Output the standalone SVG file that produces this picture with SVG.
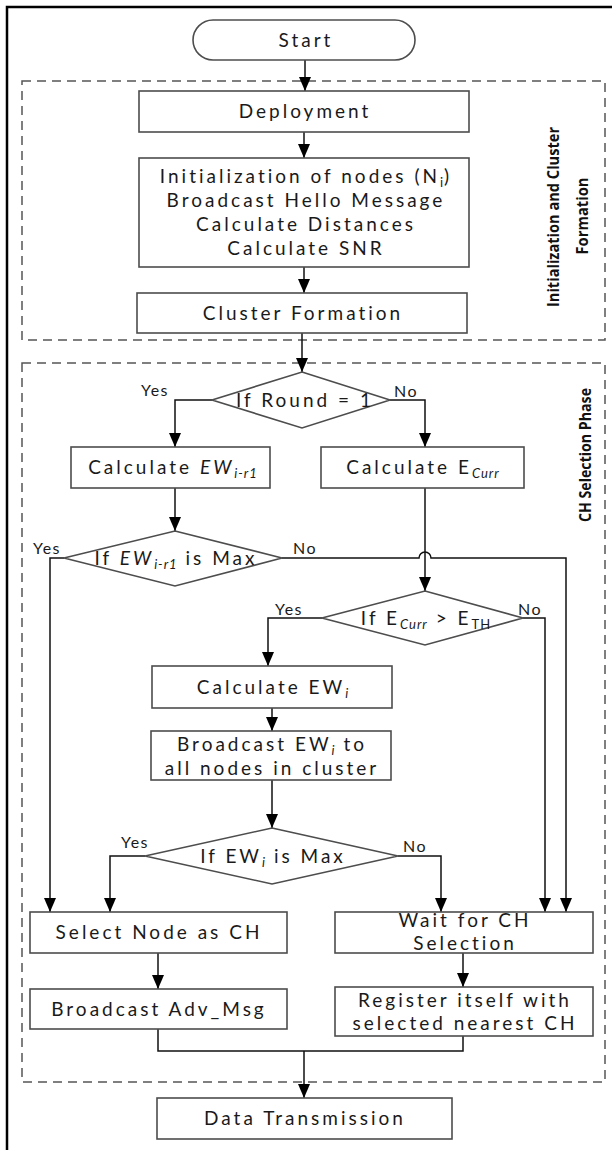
<svg xmlns="http://www.w3.org/2000/svg" width="612" height="1150" viewBox="0 0 612 1150">
<defs>
<marker id="ah" markerUnits="userSpaceOnUse" markerWidth="14" markerHeight="12" viewBox="0 0 14 12" refX="14" refY="6" orient="auto">
<path d="M0,0 L14,6 L0,12 Z" fill="#000"/>
</marker>
<style>
.box{fill:#fff;stroke:#4d4d4d;stroke-width:1.6}
.dash{fill:none;stroke:#555;stroke-width:1.5;stroke-dasharray:9 6}
.t{font-family:Lato,"Open Sans",sans-serif;font-size:19px;letter-spacing:3px;fill:#1a1a1a;text-anchor:middle}
.lbl{font-family:Lato,"Open Sans",sans-serif;font-size:16px;letter-spacing:1.5px;fill:#1a1a1a;text-anchor:middle}
.side{font-family:"Open Sans","Noto Sans",sans-serif;font-size:16px;font-weight:bold;fill:#111;text-anchor:middle}
.c{fill:none;stroke:#111;stroke-width:1.5}
.ca{fill:none;stroke:#111;stroke-width:1.5;marker-end:url(#ah)}
.sub{font-size:13px;letter-spacing:1px}
</style>
</defs>
<rect width="612" height="1150" fill="#fff"/>
<path d="M7,1150 V7 H612" fill="none" stroke="#000" stroke-width="2.5"/>

<g id="phase1">
<rect class="dash" x="22" y="81" width="583" height="259"/>
<text class="side" transform="rotate(-90)"><tspan x="-217" y="559" textLength="180" lengthAdjust="spacingAndGlyphs">Initialization and Cluster</tspan><tspan x="-216" y="588" textLength="77" lengthAdjust="spacingAndGlyphs">Formation</tspan></text>
</g>
<g id="phase2">
<rect class="dash" x="22" y="363" width="583" height="719"/>
<text class="side" transform="translate(591,455) rotate(-90)" textLength="134" lengthAdjust="spacingAndGlyphs">CH Selection Phase</text>
</g>

<g id="connectors">
<line class="ca" x1="305" y1="60" x2="305" y2="91"/>
<line class="ca" x1="304" y1="132" x2="304" y2="158"/>
<line class="ca" x1="304" y1="267" x2="304" y2="293"/>
<line class="ca" x1="302" y1="333" x2="302" y2="372"/>
<polyline class="ca" points="212,400 175,400 175,447"/>
<polyline class="ca" points="390,400 425,400 425,447"/>
<line class="ca" x1="175" y1="488" x2="175" y2="531"/>
<line class="ca" x1="425" y1="488" x2="425" y2="591"/>
<polyline class="ca" points="64,558 50,558 50,912"/>
<path class="ca" d="M282,558 H419 A6,6 0 0 1 431,558 H566 V912"/>
<polyline class="ca" points="322,618 268,618 268,666"/>
<polyline class="ca" points="523,618 545,618 545,912"/>
<line class="ca" x1="272" y1="708" x2="272" y2="731"/>
<line class="ca" x1="272" y1="780" x2="272" y2="828"/>
<polyline class="ca" points="145,856 110,856 110,912"/>
<polyline class="ca" points="398,856 441,856 441,912"/>
<line class="ca" x1="158" y1="953" x2="158" y2="989"/>
<line class="ca" x1="463" y1="953" x2="463" y2="987"/>
<polyline class="c" points="158,1029 158,1051 463,1051 463,1036"/>
<line class="ca" x1="304" y1="1051" x2="304" y2="1098"/>
<text class="lbl" x="155" y="396">Yes</text>
<text class="lbl" x="406" y="397">No</text>
<text class="lbl" x="47" y="554">Yes</text>
<text class="lbl" x="305" y="554">No</text>
<text class="lbl" x="289" y="615">Yes</text>
<text class="lbl" x="530" y="615">No</text>
<text class="lbl" x="135" y="848">Yes</text>
<text class="lbl" x="415" y="852">No</text>
</g>

<g id="start">
<rect class="box" x="193" y="20" width="222" height="40" rx="20" ry="20"/>
<text class="t" x="306" y="47">Start</text>
</g>
<g id="deployment">
<rect class="box" x="139" y="91" width="330" height="41"/>
<text class="t" x="305" y="118">Deployment</text>
</g>
<g id="init">
<rect class="box" x="139" y="158" width="330" height="109"/>
<text class="t"><tspan x="306" y="183">Initialization of nodes (N</tspan><tspan class="sub" dy="4">i</tspan><tspan dy="-4">)</tspan><tspan x="306" y="207">Broadcast Hello Message</tspan><tspan x="306" y="231">Calculate Distances</tspan><tspan x="306" y="255">Calculate SNR</tspan></text>
</g>
<g id="cluster">
<rect class="box" x="137" y="293" width="330" height="40"/>
<text class="t" x="303" y="320">Cluster Formation</text>
</g>
<g id="round">
<polygon class="box" points="302,372 390,400 302,428 212,400"/>
<text class="t" x="305" y="407">If Round = 1</text>
</g>
<g id="calcEWr1">
<rect class="box" x="71" y="447" width="199" height="41"/>
<text class="t" x="173" y="474">Calculate <tspan font-style="italic">EW</tspan><tspan class="sub" font-style="italic" dy="4">i-r1</tspan></text>
</g>
<g id="calcEcurr">
<rect class="box" x="321" y="447" width="203" height="41"/>
<text class="t" x="423" y="474">Calculate E<tspan class="sub" font-style="italic" dy="4">Curr</tspan></text>
</g>
<g id="maxEWr1">
<polygon class="box" points="175,531 282,558 175,586 64,558"/>
<text class="t" x="176" y="565">If <tspan font-style="italic">EW</tspan><tspan class="sub" font-style="italic" dy="4">i-r1</tspan><tspan dy="-4"> is Max</tspan></text>
</g>
<g id="ecurr">
<polygon class="box" points="425,591 523,618 425,645 322,618"/>
<text class="t" x="426" y="625">If E<tspan class="sub" font-style="italic" dy="4">Curr</tspan><tspan dy="-4"> &gt; E</tspan><tspan class="sub" dy="4">TH</tspan></text>
</g>
<g id="calcEW">
<rect class="box" x="152" y="666" width="240" height="42"/>
<text class="t" x="273" y="694">Calculate EW<tspan class="sub" font-style="italic" dy="4">i</tspan></text>
</g>
<g id="bcastEW">
<rect class="box" x="151" y="731" width="240" height="49"/>
<text class="t"><tspan x="272" y="751">Broadcast EW</tspan><tspan class="sub" font-style="italic" dy="4">i</tspan><tspan dy="-4"> to</tspan><tspan x="272" y="775">all nodes in cluster</tspan></text>
</g>
<g id="maxEW">
<polygon class="box" points="272,828 398,856 272,884 145,856"/>
<text class="t" x="273" y="863">If EW<tspan class="sub" font-style="italic" dy="4">i</tspan><tspan dy="-4"> is Max</tspan></text>
</g>
<g id="selectCH">
<rect class="box" x="30" y="912" width="257" height="41"/>
<text class="t" x="159" y="939">Select Node as CH</text>
</g>
<g id="wait">
<rect class="box" x="335" y="912" width="258" height="41"/>
<text class="t"><tspan x="465" y="927">Wait for CH</tspan><tspan x="465" y="950">Selection</tspan></text>
</g>
<g id="adv">
<rect class="box" x="30" y="989" width="257" height="40"/>
<text class="t" x="159" y="1016">Broadcast Adv_Msg</text>
</g>
<g id="register">
<rect class="box" x="335" y="987" width="258" height="49"/>
<text class="t"><tspan x="465" y="1007">Register itself with</tspan><tspan x="465" y="1030">selected nearest CH</tspan></text>
</g>
<g id="data">
<rect class="box" x="157" y="1098" width="295" height="41"/>
<text class="t" x="305" y="1125">Data Transmission</text>
</g>
</svg>
